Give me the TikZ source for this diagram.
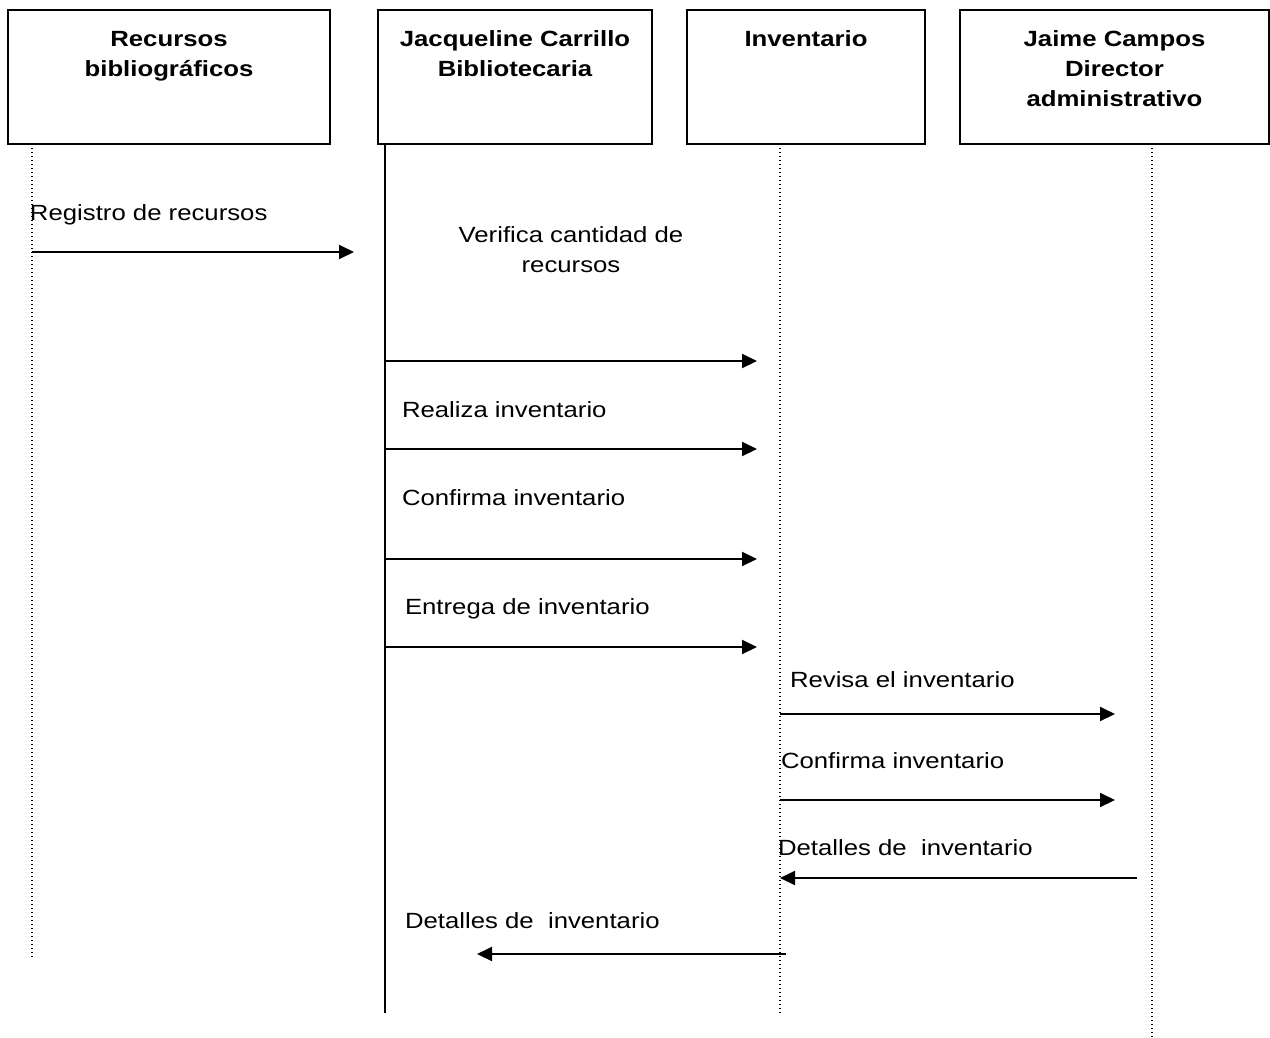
\documentclass[tikz,border=0pt]{standalone}
\usepackage{fontspec}
\setmainfont[FakeStretch=1.17]{Liberation Sans}
\usetikzlibrary{arrows.meta}

\begin{document}
\begin{tikzpicture}[x=1pt,y=-1pt,
  every node/.style={inner sep=0pt,outer sep=0pt,font=\fontsize{22}{30}\selectfont},
  actor/.style={draw,line width=2pt,minimum height=134pt},
  actortext/.style={anchor=north,align=center,font=\fontsize{22}{30}\selectfont\bfseries},
  msgtext/.style={anchor=base west},
  msg/.style={line width=2pt,-{Triangle[length=15pt,width=14pt]}},
  life/.style={line width=1.2pt,dash pattern=on 1.2pt off 2.8pt},
  activelife/.style={line width=2pt}]

\useasboundingbox (0,0) rectangle (1270,1037);

% participant boxes
\node[actor,minimum width=322pt] (b1) at (169,77) {};
\node[actor,minimum width=274pt] (b2) at (515,77) {};
\node[actor,minimum width=238pt] (b3) at (806,77) {};
\node[actor,minimum width=309pt] (b4) at (1114.5,77) {};

\node[actortext] (t1) at ([yshift=-19pt]b1.north) {\rule{0pt}{17pt}Recursos\\bibliográficos};
\node[actortext] (t2) at ([yshift=-19pt]b2.north) {\rule{0pt}{17pt}Jacqueline Carrillo\\Bibliotecaria};
\node[actortext] (t3) at ([yshift=-19pt]b3.north) {\rule{0pt}{17pt}Inventario};
\node[actortext] (t4) at ([yshift=-19pt]b4.north) {\rule{0pt}{17pt}Jaime Campos\\Director\\administrativo};

% lifelines
\coordinate (l1a) at (32,144);   \coordinate (l1b) at (32,957);
\coordinate (l2a) at (385,144);  \coordinate (l2b) at (385,1013);
\coordinate (l3a) at (780,144);  \coordinate (l3b) at (780,1013);
\coordinate (l4a) at (1152,144); \coordinate (l4b) at (1152,1037);
\draw[life] (l1a) -- (l1b);
\draw[activelife] (l2a) -- (l2b);
\draw[life] (l3a) -- (l3b);
\draw[life] (l4a) -- (l4b);

% message end points
\coordinate (m1s) at (32,252);   \coordinate (m1e) at (354,252);
\coordinate (m2s) at (385,361);  \coordinate (m2e) at (757,361);
\coordinate (m3s) at (385,449);  \coordinate (m3e) at (757,449);
\coordinate (m4s) at (385,559);  \coordinate (m4e) at (757,559);
\coordinate (m5s) at (385,647);  \coordinate (m5e) at (757,647);
\coordinate (m6s) at (780,714);  \coordinate (m6e) at (1115,714);
\coordinate (m7s) at (780,800);  \coordinate (m7e) at (1115,800);
\coordinate (m8s) at (1137,878); \coordinate (m8e) at (780,878);
\coordinate (m9s) at (786,954);  \coordinate (m9e) at (477,954);

\draw[msg] (m1s) -- (m1e);
\draw[msg] (m2s) -- (m2e);
\draw[msg] (m3s) -- (m3e);
\draw[msg] (m4s) -- (m4e);
\draw[msg] (m5s) -- (m5e);
\draw[msg] (m6s) -- (m6e);
\draw[msg] (m7s) -- (m7e);
\draw[msg] (m8s) -- (m8e);
\draw[msg] (m9s) -- (m9e);

% message labels
\node[msgtext] (n1) at (30,220) {Registro de recursos};
\node[anchor=north,align=center] (n2) at (571,225) {\rule{0pt}{17pt}Verifica cantidad de\\recursos};
\node[msgtext] (n3) at (402,417) {Realiza inventario};
\node[msgtext] (n4) at (402,505) {Confirma inventario};
\node[msgtext] (n5) at (405,614) {Entrega de inventario};
\node[msgtext] (n6) at (790,687) {Revisa el inventario};
\node[msgtext] (n7) at (781,768) {Confirma inventario};
\node[msgtext] (n8) at (778,855) {Detalles de~ inventario};
\node[msgtext] (n9) at (405,928) {Detalles de~ inventario};

\end{tikzpicture}
\end{document}
